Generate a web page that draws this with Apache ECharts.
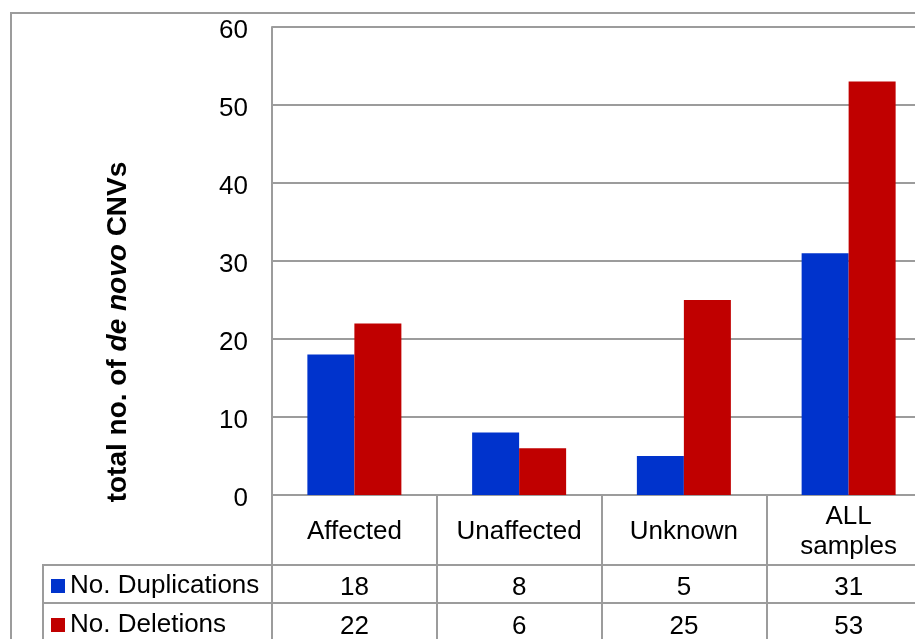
<!DOCTYPE html>
<html>
<head>
<meta charset="utf-8">
<style>
  html, body { margin: 0; padding: 0; background: #fff; }
  #chart { width: 915px; height: 639px; }
</style>
<script src="https://cdn.jsdelivr.net/npm/echarts@6/dist/echarts.min.js"></script>
</head>
<body>
<div id="chart"></div>
<script>
// Sample groups and de novo CNV counts per group
const categories = ['Affected', 'Unaffected', 'Unknown', 'ALL\nsamples'];
const duplications = [18, 8, 5, 31];
const deletions = [22, 6, 25, 53];
const seriesNames = ['No. Duplications', 'No. Deletions'];
const yTicks = { min: 0, max: 60, step: 10 };

const FONT = '"Liberation Sans", Arial, sans-serif';
const GRID_COLOR = '#9c9c9c';
const BLUE = '#0033cc';
const RED = '#c00000';

const chart = echarts.init(document.getElementById('chart'), null, { renderer: 'canvas' });

// Data-table rows under the plot: one extra category axis per series
function tableAxis(values, offset, margin) {
  return {
    type: 'category',
    gridIndex: 0,
    position: 'bottom',
    offset: offset,
    data: values.map(String),
    axisLine: { show: true, lineStyle: { color: GRID_COLOR, width: 2 } },
    axisTick: { show: false },
    axisLabel: {
      margin: margin, verticalAlign: 'middle',
      fontSize: 26, fontFamily: FONT, color: '#000'
    }
  };
}

const option = {
  animation: false,
  backgroundColor: '#fff',
  // the plot runs past the right edge of the page, as in the original layout
  grid: { left: 272, top: 27, width: 659, height: 468, containLabel: false, outerBoundsMode: 'none' },
  legend: {
    orient: 'vertical',
    left: 51, top: 573,
    padding: 0,
    height: 70,
    icon: 'rect',
    itemWidth: 14, itemHeight: 14,
    itemGap: 13, itemTextGap: 9,
    textStyle: { fontSize: 26, lineHeight: 26, fontFamily: FONT, color: '#000' },
    data: seriesNames,
    selectedMode: false
  },
  xAxis: [
    {
      type: 'category',
      data: categories,
      axisLine: { show: true, lineStyle: { color: GRID_COLOR, width: 2 } },
      axisTick: { show: true, length: 150, alignWithLabel: false, lineStyle: { color: GRID_COLOR, width: 2 } },
      axisLabel: {
        margin: 37, verticalAlign: 'middle', lineHeight: 30,
        fontSize: 26, fontFamily: FONT, color: '#000', interval: 0
      }
    },
    tableAxis(duplications, 70, 23),
    tableAxis(deletions, 108, 24)
  ],
  yAxis: {
    type: 'value',
    min: yTicks.min, max: yTicks.max, interval: yTicks.step,
    axisLine: { show: true, lineStyle: { color: GRID_COLOR, width: 2 } },
    axisTick: { show: false },
    splitLine: { show: true, lineStyle: { color: GRID_COLOR, width: 2 } },
    axisLabel: {
      margin: 24, verticalAlign: 'middle',
      formatter: '{v|{value}}',
      rich: { v: { fontSize: 26, fontFamily: FONT, color: '#000', padding: [7, 0, 0, 0] } }
    }
  },
  series: [
    {
      name: seriesNames[0], type: 'bar', xAxisIndex: 0,
      data: duplications, barWidth: 47, barGap: '0%',
      itemStyle: { color: BLUE }
    },
    {
      name: seriesNames[1], type: 'bar', xAxisIndex: 0,
      data: deletions, barWidth: 47, barGap: '0%',
      itemStyle: { color: RED }
    }
  ],
  graphic: [
    // chart-area frame
    { type: 'rect', silent: true, z: 0,
      shape: { x: 11, y: 13, width: 1000, height: 700 },
      style: { fill: 'none', stroke: GRID_COLOR, lineWidth: 2 } },
    // legend cells of the data table
    { type: 'line', silent: true, z: 5,
      shape: { x1: 43, y1: 565, x2: 272, y2: 565 },
      style: { stroke: GRID_COLOR, lineWidth: 2 } },
    { type: 'line', silent: true, z: 5,
      shape: { x1: 43, y1: 603, x2: 272, y2: 603 },
      style: { stroke: GRID_COLOR, lineWidth: 2 } },
    { type: 'line', silent: true, z: 5,
      shape: { x1: 43, y1: 564, x2: 43, y2: 700 },
      style: { stroke: GRID_COLOR, lineWidth: 2 } },
    // value-axis title
    { type: 'text', silent: true, z: 10,
      x: 118, y: 332, rotation: Math.PI / 2,
      style: {
        text: '{b|total no. of }{i|de novo}{b| CNVs}',
        align: 'center', verticalAlign: 'middle',
        rich: {
          b: { fontSize: 28, fontWeight: 'bold', fontFamily: FONT, fill: '#000' },
          i: { fontSize: 28, fontWeight: 'bold', fontStyle: 'italic', fontFamily: FONT, fill: '#000' }
        }
      } }
  ]
};

chart.setOption(option);
</script>
</body>
</html>
